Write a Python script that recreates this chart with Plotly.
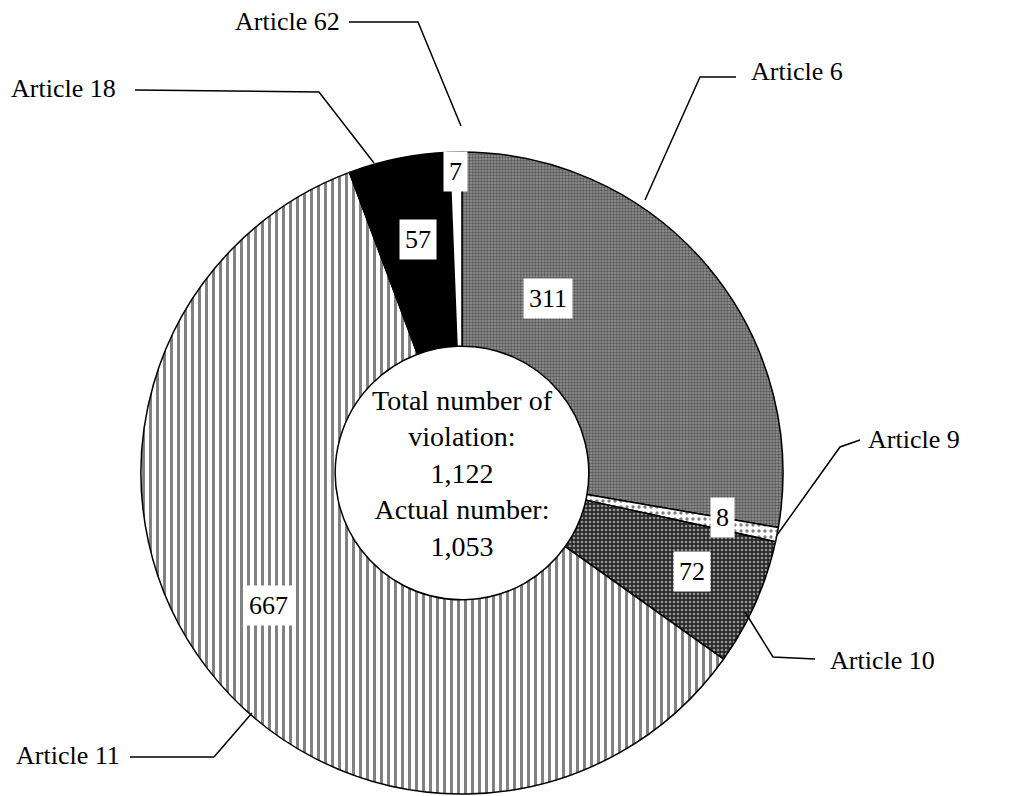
import plotly.graph_objects as go

# ---------------- data ----------------
articles = ["Article 6", "Article 9", "Article 10", "Article 11", "Article 18", "Article 62"]
violations = [311, 8, 72, 667, 57, 7]
total_violations = "1,122"
actual_number = "1,053"

# ---------------- styling ----------------
W, H = 1027, 796
FONT = "Liberation Serif, Times New Roman, serif"

pattern_shapes = [".", ".", ".", "|", "", ""]
pattern_fg = ["#1a1a1a", "#000000", "#ffffff", "#000000", "#000000", "#000000"]
pattern_bg = ["#959595", "#ffffff", "#2a2a2a", "#ffffff", "#000000", "#ffffff"]
pattern_size = [3, 6, 4, 7, 8, 8]
pattern_solid = [0.5, 0.25, 0.35, 0.42, 0.3, 0.3]

# pie geometry in pixels
cx, cy, R = 462, 473, 321

def px(x):
    return x / W

def py(y):
    return 1 - y / H

fig = go.Figure()
fig.add_trace(go.Pie(
    labels=articles,
    values=violations,
    sort=False,
    direction="clockwise",
    rotation=0,
    hole=0.395,
    textinfo="none",
    hoverinfo="label+value",
    marker=dict(
        colors=pattern_bg,
        line=dict(color="#000000", width=1.5),
        pattern=dict(shape=pattern_shapes, fgcolor=pattern_fg, bgcolor=pattern_bg,
                     size=pattern_size, solidity=pattern_solid, fillmode="overlay"),
    ),
    domain=dict(x=[px(cx - R), px(cx + R)], y=[py(cy + R), py(cy - R)]),
    showlegend=False,
))

# value label positions (pixel centres), one per slice
value_pos = [(548, 298), (722, 517), (692, 571), (268, 605), (418, 240), (455, 172)]
annotations = []
for v, (x, y) in zip(violations, value_pos):
    annotations.append(dict(
        x=px(x), y=py(y), xref="paper", yref="paper", text=str(v), showarrow=False,
        font=dict(family=FONT, size=26, color="black"), bgcolor="white", borderpad=5,
        xanchor="center", yanchor="middle"))

# category labels with leader lines
label_pos = {
    "Article 62": (342, 22, "right"),
    "Article 18": (118, 88, "right"),
    "Article 6": (749, 72, "left"),
    "Article 9": (866, 440, "left"),
    "Article 10": (828, 660, "left"),
    "Article 11": (122, 755, "right"),
}
leaders = {
    "Article 62": [(349, 22), (418, 22), (461, 126)],
    "Article 18": [(135, 90), (319, 92), (374, 163)],
    "Article 6": [(736, 77), (700, 77), (645, 200)],
    "Article 9": [(777, 535), (840, 447), (860, 440)],
    "Article 10": [(745, 612), (773, 657), (815, 659)],
    "Article 11": [(130, 757), (214, 757), (252, 713)],
}
shapes = []
for name in articles:
    x, y, anchor = label_pos[name]
    annotations.append(dict(
        x=px(x), y=py(y), xref="paper", yref="paper", text=name, showarrow=False,
        font=dict(family=FONT, size=26, color="black"), xanchor=anchor, yanchor="middle"))
    pts = leaders[name]
    path = "M " + " L ".join(f"{px(a):.5f},{py(b):.5f}" for a, b in pts)
    shapes.append(dict(type="path", path=path, xref="paper", yref="paper",
                       line=dict(color="black", width=1.5)))

annotations.append(dict(
    x=px(cx), y=py(cy), xref="paper", yref="paper", showarrow=False,
    text=f"Total number of<br>violation:<br>{total_violations}<br>Actual number:<br>{actual_number}",
    font=dict(family=FONT, size=28, color="black"), xanchor="center", yanchor="middle"))

fig.update_layout(
    width=W, height=H,
    margin=dict(l=0, r=0, t=0, b=0),
    paper_bgcolor="white", plot_bgcolor="white",
    annotations=annotations, shapes=shapes,
)

fig.write_html("out.html", config={"displayModeBar": False},
               post_script="document.body.style.margin='0';document.body.style.overflow='hidden';")
